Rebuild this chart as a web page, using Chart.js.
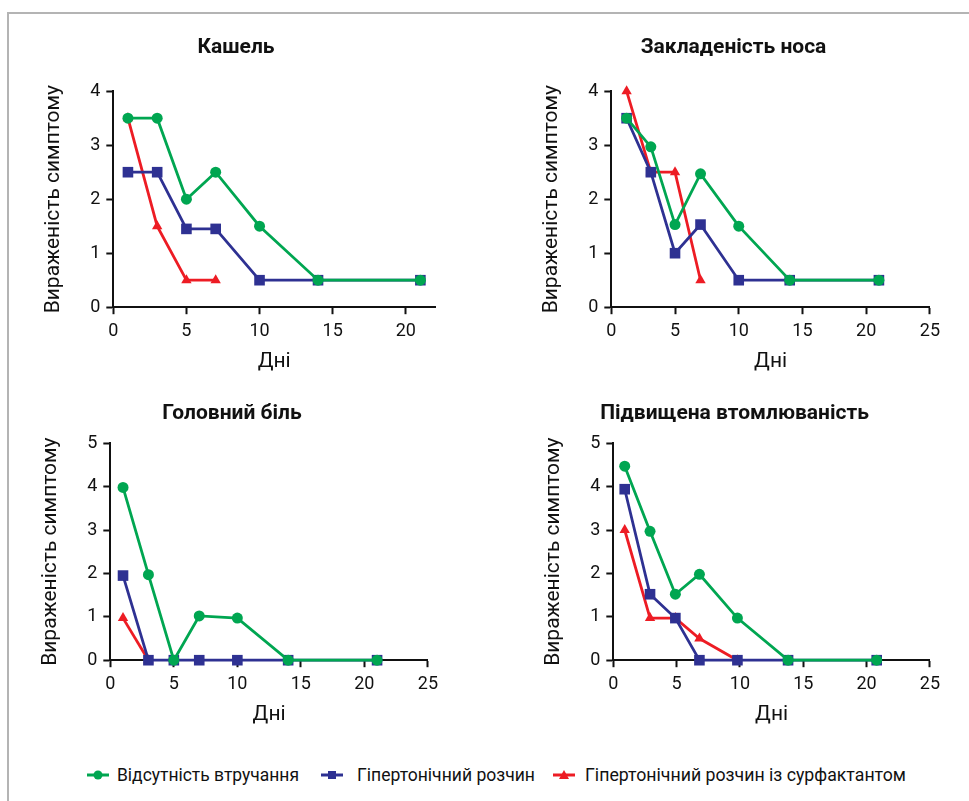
<!DOCTYPE html>
<html>
<head>
<meta charset="utf-8">
<script src="https://cdn.jsdelivr.net/npm/chart.js@4/dist/chart.umd.min.js"></script>
<style>
  body { margin: 0; background: #fff; width: 969px; height: 801px; overflow: hidden; position: relative; }
  #frame { position: absolute; left: 7px; top: 12px; width: 970px; height: 800px;
           border-top: 2px solid #b4b4b4; border-left: 2px solid #b4b4b4; }
  .box { position: absolute; }
  #legend { position: absolute; left: 0; top: 763px; width: 969px; height: 24px;
            font-family: "Roboto", sans-serif; font-size: 19px; color: #111; }
  .mark { position: absolute; top: 6px; }
  .txt { position: absolute; top: 0; line-height: 24px; white-space: nowrap; transform-origin: 0 50%; }
</style>
</head>
<body>
<div id="frame"></div>
<div class="box" style="left:37px;top:24px;width:412px;height:354px"><canvas id="c1"></canvas></div>
<div class="box" style="left:535px;top:24px;width:411px;height:354px"><canvas id="c2"></canvas></div>
<div class="box" style="left:34px;top:390px;width:410px;height:341px"><canvas id="c3"></canvas></div>
<div class="box" style="left:537px;top:390px;width:409px;height:341px"><canvas id="c4"></canvas></div>
<div id="legend">
  <svg class="mark" style="left:87px" width="22" height="12"><line x1="0" y1="6" x2="22" y2="6" stroke="#00a651" stroke-width="3"/><circle cx="11" cy="6" r="4.5" fill="#00a651"/></svg>
  <span class="txt" data-w="182" style="left:117px">Відсутність втручання</span>
  <svg class="mark" style="left:321px" width="22" height="12"><line x1="0" y1="6" x2="22" y2="6" stroke="#2e3192" stroke-width="3"/><rect x="7" y="2" width="8" height="8" fill="#2e3192"/></svg>
  <span class="txt" data-w="178" style="left:357px">Гіпертонічний розчин</span>
  <svg class="mark" style="left:553px" width="22" height="12"><line x1="0" y1="6" x2="22" y2="6" stroke="#ed1c24" stroke-width="3"/><polygon points="11,1 16,10 6,10" fill="#ed1c24"/></svg>
  <span class="txt" data-w="321" style="left:585px">Гіпертонічний розчин із сурфактантом</span>
</div>
<script>
const seriesNames = ['Відсутність втручання', 'Гіпертонічний розчин', 'Гіпертонічний розчин із сурфактантом']
const colors = ['#00a651', '#2e3192', '#ed1c24']
const markers = ['circle', 'rect', 'triangle']

// Кашель
const coughDays = [1, 3, 5, 7, 10, 14, 21]
const coughNone = [3.5, 3.5, 2, 2.5, 1.5, 0.5, 0.5]
const coughSaline = [2.5, 2.5, 1.45, 1.45, 0.5, 0.5, 0.5]
const coughSurf = [3.5, 1.5, 0.5, 0.5]

// Закладеність носа
const noseDays = [1.2, 3.1, 5, 7, 10, 14, 21]
const noseNone = [3.5, 2.97, 1.53, 2.47, 1.5, 0.5, 0.5]
const noseSaline = [3.5, 2.5, 1, 1.53, 0.5, 0.5, 0.5]
const noseSurf = [4, 2.5, 2.5, 0.5]

// Головний біль
const headDays = [1, 3, 5, 7, 10, 14, 21]
const headNone = [3.98, 1.97, 0, 1.02, 0.97, 0, 0]
const headSaline = [1.95, 0, 0, 0, 0, 0, 0]
const headSurf = [0.97, 0]

// Підвищена втомлюваність
const fatigueDays = [0.9, 2.9, 4.9, 6.8, 9.8, 13.8, 20.8]
const fatigueNone = [4.47, 2.97, 1.52, 1.98, 0.97, 0, 0]
const fatigueSaline = [3.94, 1.52, 0.97, 0, 0, 0, 0]
const fatigueSurf = [3, 0.97, 0.97, 0.5, 0]

const xTicks = [0, 5, 10, 15, 20, 25]

// squeeze legend labels to the narrow look of the original
document.querySelectorAll('.txt').forEach(el => {
    let target = +el.dataset.w
    el.style.transform = `scaleX(${target / el.getBoundingClientRect().width})`
})

function toPoints(days, values) {
    return values.map((v, i) => ({ x: days[i], y: v }))
}

function buildChart(id, title, days, series, xMax, yMax, titleGap) {
    let datasets = series.map((values, i) => ({
        label: seriesNames[i],
        data: toPoints(days, values),
        borderColor: colors[i],
        backgroundColor: colors[i],
        borderWidth: 2.8,
        pointStyle: markers[i],
        pointRadius: i == 1 ? 7.5 : (i == 0 ? 5.5 : 6),
        pointBorderWidth: 0,
        clip: false,
        tension: 0
    }))

    let axisFont = { family: 'Roboto', size: 18 }
    let titleFont = { family: 'Roboto', size: 21 }

    return new Chart(document.getElementById(id), {
        type: 'line',
        data: { datasets },
        options: {
            animation: false,
            responsive: true,
            maintainAspectRatio: false,
            layout: { padding: { left: 0, right: 14, top: 0, bottom: 0 } },
            plugins: {
                legend: { display: false },
                tooltip: { enabled: false },
                title: {
                    display: true,
                    text: title,
                    color: '#111',
                    font: { family: 'Roboto', size: 21, weight: 'bold' },
                    padding: { top: 11.5, bottom: titleGap }
                }
            },
            scales: {
                x: {
                    type: 'linear',
                    min: 0,
                    max: xMax,
                    afterBuildTicks: scale => {
                        scale.ticks = xTicks.filter(t => t <= xMax).map(v => ({ value: v }))
                    },
                    ticks: { color: '#111', font: axisFont, padding: 6, maxRotation: 0 },
                    grid: { drawOnChartArea: false, drawTicks: true, tickLength: 7, tickWidth: 2, tickColor: '#111' },
                    border: { color: '#111', width: 2 },
                    title: { display: true, text: 'Дні', color: '#111', font: titleFont, padding: { top: 1 } }
                },
                y: {
                    min: 0,
                    max: yMax,
                    ticks: { stepSize: 1, color: '#111', font: axisFont, padding: 6 },
                    grid: { drawOnChartArea: false, drawTicks: true, tickLength: 7, tickWidth: 2, tickColor: '#111' },
                    border: { color: '#111', width: 2 },
                    title: { display: true, text: 'Вираженість симптому', color: '#111', font: titleFont, padding: { bottom: 18 } }
                }
            }
        }
    })
}

buildChart('c1', 'Кашель', coughDays, [coughNone, coughSaline, coughSurf], 22, 4, 30.5)
buildChart('c2', 'Закладеність носа', noseDays, [noseNone, noseSaline, noseSurf], 25, 4, 30.5)
buildChart('c3', 'Головний біль', headDays, [headNone, headSaline, headSurf], 25, 5, 16.5)
buildChart('c4', 'Підвищена втомлюваність', fatigueDays, [fatigueNone, fatigueSaline, fatigueSurf], 25, 5, 16.5)
</script>
</body>
</html>
